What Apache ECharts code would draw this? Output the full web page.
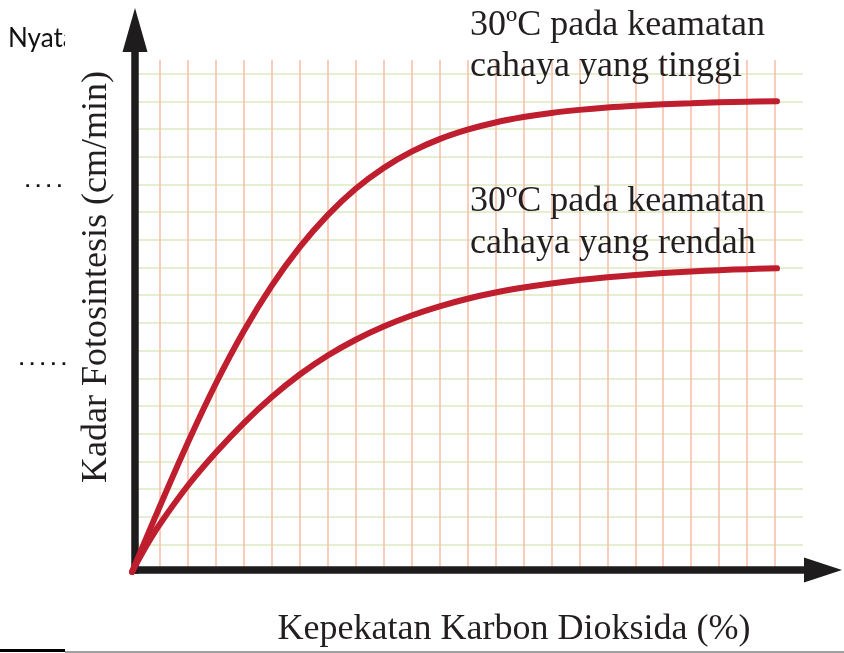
<!DOCTYPE html>
<html><head><meta charset="utf-8">
<script src="https://cdn.jsdelivr.net/npm/echarts@6/dist/echarts.min.js"></script>
<style>html,body{margin:0;padding:0;background:#fff}#c{width:844px;height:653px}</style>
</head><body><div id="c"></div>
<script>
// CO2 concentration (grid units) and photosynthesis rate (grid units)
const highX = [0, 1, 2, 3, 4, 5, 6, 7, 8, 9, 10, 11, 12, 13, 14, 15, 16, 17, 18, 19, 20, 21, 22, 23.07];
const highY = [0, 2.384, 4.678, 6.810, 8.707, 10.350, 11.741, 12.897, 13.848, 14.599, 15.188, 15.640, 15.983, 16.243, 16.438, 16.586, 16.698, 16.785, 16.850, 16.900, 16.936, 16.969, 16.994, 17.009];
const lowX  = [0, 0.5, 1, 2, 3, 4, 5, 6, 7, 8, 9, 10, 11, 12, 13, 14, 15, 16, 17, 18, 19, 20, 21, 22, 23.07];
const lowY  = [0, 0.921, 1.734, 3.125, 4.317, 5.383, 6.322, 7.135, 7.821, 8.392, 8.869, 9.267, 9.599, 9.874, 10.098, 10.278, 10.426, 10.549, 10.650, 10.733, 10.802, 10.860, 10.907, 10.943, 10.972];
const xTitle = 'Kepekatan Karbon Dioksida (%)';
const yTitle = 'Kadar Fotosintesis (cm/min)';
const highLabel = ['30ºC pada keamatan', 'cahaya yang tinggi'];
const lowLabel = ['30ºC pada keamatan', 'cahaya yang rendah'];
const sideText = ['Nyata', '. . . .', '. . . . .'];

const zip = (xs, ys) => xs.map((x, i) => [x, ys[i]]);
const serif = 'Liberation Serif';
const txtColor = '#231F20';
const red = '#BE1E2D';

const chart = echarts.init(document.getElementById('c'), null, {renderer: 'canvas'});
chart.setOption({
  backgroundColor: '#fff',
  animation: false,
  grid: [
    {left: 132, right: 41, top: 60, bottom: 81},
    {left: 135, right: 21, top: 30, bottom: 81}
  ],
  xAxis: [
    {gridIndex: 0, type: 'value', min: 0, max: 24, interval: 1,
     axisLine: {show: false}, axisTick: {show: false}, axisLabel: {show: false},
     splitLine: {show: true, showMinLine: false, showMaxLine: false, lineStyle: {color: '#F7BBA6', width: 1.5}}},
    {gridIndex: 1, type: 'value', min: 0, max: 1,
     axisLine: {show: true, symbol: ['none', 'triangle'], symbolSize: [25, 38],
       lineStyle: {color: '#1E1C1C', width: 7.5, cap: 'square'}},
     axisTick: {show: false}, axisLabel: {show: false}, splitLine: {show: false},
     name: xTitle, nameLocation: 'middle', nameGap: 42,
     nameTextStyle: {fontFamily: serif, fontSize: 36, color: txtColor, padding: [0, 0, 0, 70]}}
  ],
  yAxis: [
    {gridIndex: 0, type: 'value', min: 0, max: 18.5, interval: 1,
     axisLine: {show: false}, axisTick: {show: false}, axisLabel: {show: false},
     splitLine: {show: true, showMinLine: false, showMaxLine: false, lineStyle: {color: '#DCE8C2', width: 1.5}}},
    {gridIndex: 1, type: 'value', min: 0, max: 1,
     axisLine: {show: true, symbol: ['none', 'triangle'], symbolSize: [25, 44],
       lineStyle: {color: '#1E1C1C', width: 7.5, cap: 'square'}},
     axisTick: {show: false}, axisLabel: {show: false}, splitLine: {show: false},
     name: yTitle, nameLocation: 'middle', nameGap: 20,
     nameTextStyle: {fontFamily: serif, fontSize: 36, color: txtColor, padding: [0, 0, 0, 46]}}
  ],
  series: [
    {type: 'line', xAxisIndex: 0, yAxisIndex: 0, data: zip(highX, highY), showSymbol: false,
     smooth: 0.4, lineStyle: {color: red, width: 6, cap: 'round'}, z: 5},
    {type: 'line', xAxisIndex: 0, yAxisIndex: 0, data: zip(lowX, lowY), showSymbol: false,
     smooth: 0.4, lineStyle: {color: red, width: 6, cap: 'round'}, z: 5}
  ],
  graphic: [
    {type: 'text', left: 470, top: 8, z: 10, style: {text: highLabel[0], font: '36px "Liberation Serif"', fill: txtColor}},
    {type: 'text', left: 470, top: 49, z: 10, style: {text: highLabel[1], font: '36px "Liberation Serif"', fill: txtColor}},
    {type: 'text', left: 470, top: 184, z: 10, style: {text: lowLabel[0], font: '36px "Liberation Serif"', fill: txtColor}},
    {type: 'text', left: 470, top: 226, z: 10, style: {text: lowLabel[1], font: '36px "Liberation Serif"', fill: txtColor}},
    {type: 'text', left: 8, top: 26, z: 10, style: {text: sideText[0], font: '26px Lato', fill: '#111'}},
    {type: 'rect', shape: {x: 65, y: 15, width: 55, height: 42}, z: 11, style: {fill: '#fff'}},
    {type: 'text', left: 25, top: 172, z: 10, style: {text: sideText[1], font: 'bold 19px "Liberation Sans"', fill: '#111'}},
    {type: 'text', left: 19, top: 350, z: 10, style: {text: sideText[2], font: 'bold 19px "Liberation Sans"', fill: '#111'}},
    {type: 'line', z: 10, shape: {x1: 0, y1: 650.5, x2: 65, y2: 650.5}, style: {stroke: '#000', lineWidth: 3}},
    {type: 'line', z: 10, shape: {x1: 65, y1: 652, x2: 844, y2: 652}, style: {stroke: '#A0A0A0', lineWidth: 2}}
  ]
});
</script></body></html>
